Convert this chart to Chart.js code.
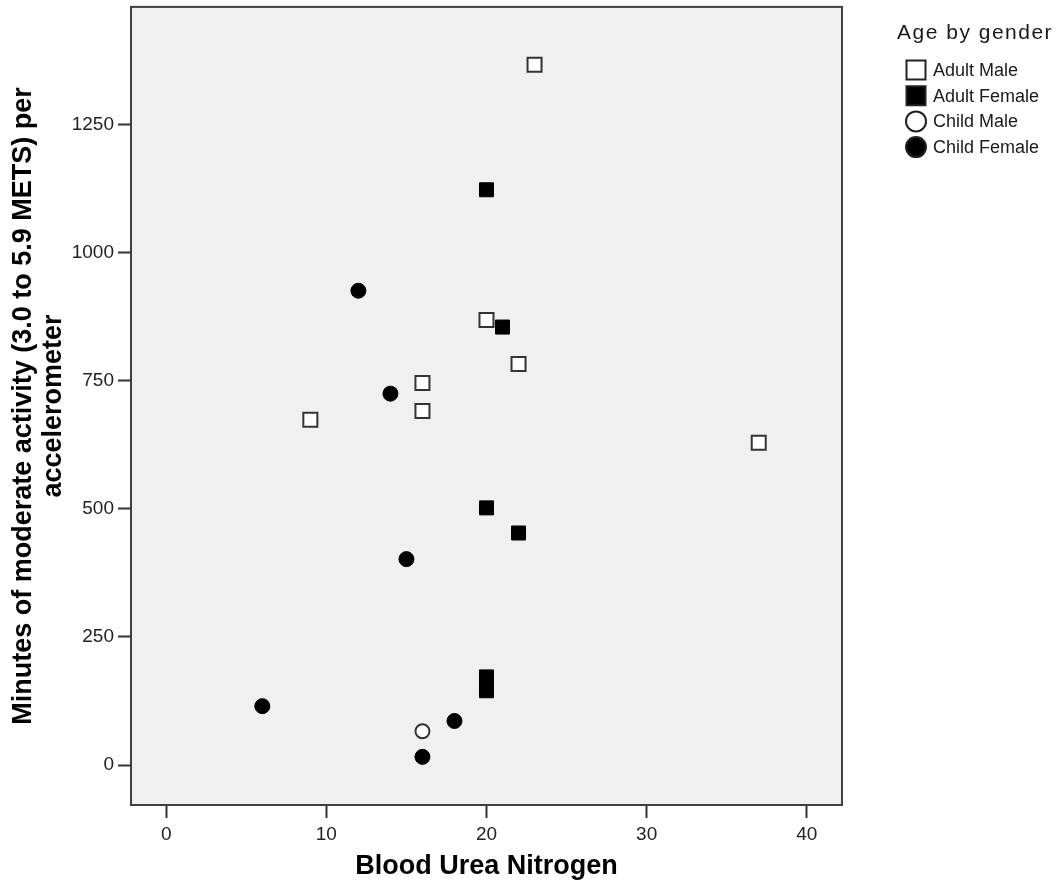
<!DOCTYPE html>
<html>
<head>
<meta charset="utf-8">
<title>Blood Urea Nitrogen vs moderate activity</title>
<script src="https://cdn.jsdelivr.net/npm/chart.js@4"></script>
<style>
  html, body { margin: 0; padding: 0; background: #ffffff; overflow: hidden; }
  /* canvas is 5px taller and pulled up, so the plot top lands at ~7px */
  canvas { display: block; margin-top: -5px; }
</style>
</head>
<body>
<canvas id="scatterChart" width="1061" height="891"></canvas>
<script>
// Points per group
// x = Blood Urea Nitrogen, y = minutes of moderate activity
const adultMaleX = [23, 20, 22, 16, 16, 9, 37];
const adultMaleY = [1367, 869, 783, 746, 691, 674, 629];

const adultFemaleX = [20, 21, 20, 22, 20, 20];
const adultFemaleY = [1123, 855, 502, 453, 172, 145];

const childMaleX = [16];
const childMaleY = [66];

const childFemaleX = [12, 14, 15, 6, 18, 16];
const childFemaleY = [926, 725, 402, 115, 86, 16];

// Axis ticks
const xTicks = [0, 10, 20, 30, 40];
const yTicks = [0, 250, 500, 750, 1000, 1250];

const groupNames = ['Adult Male', 'Adult Female', 'Child Male', 'Child Female'];

const FONT = "'Liberation Sans', Arial, sans-serif";
const PLOT_BG = '#f0f0f0';
const FRAME = '#404040';
const SHIFT = 5; // matches the css margin-top

function toPoints(xs, ys) {
    return xs.map((x, i) => ({ x: x, y: ys[i] }));
}

// ── plot background + frame ──
const framePlugin = {
    id: 'frame',
    beforeDraw(chart) {
        const a = chart.chartArea;
        const ctx = chart.ctx;
        ctx.save();
        ctx.fillStyle = PLOT_BG;
        ctx.fillRect(a.left, a.top, a.right - a.left, a.bottom - a.top);
        ctx.restore();
    },
    afterDatasetsDraw(chart) {
        const a = chart.chartArea;
        const ctx = chart.ctx;
        ctx.save();
        ctx.strokeStyle = FRAME;
        ctx.lineWidth = 2;
        ctx.strokeRect(a.left, a.top, a.right - a.left, a.bottom - a.top);
        ctx.restore();
    }
};

// ── legend on the right, SPSS style ──
const legendPlugin = {
    id: 'sideLegend',
    afterDraw(chart) {
        const ctx = chart.ctx;
        ctx.save();
        ctx.fillStyle = '#1a1a1a';
        ctx.textBaseline = 'alphabetic';
        ctx.font = '21px ' + FONT;
        if ('letterSpacing' in ctx) ctx.letterSpacing = '1.5px';
        ctx.fillText('Age by gender', 897, 39 + SHIFT);
        if ('letterSpacing' in ctx) ctx.letterSpacing = '0px';

        ctx.font = '18px ' + FONT;
        ctx.textBaseline = 'middle';
        const cx = 916;
        chart.data.datasets.forEach((ds, i) => {
            const cy = 70 + SHIFT + i * 25.7;
            ctx.lineWidth = 2;
            ctx.strokeStyle = '#222';
            ctx.fillStyle = ds.backgroundColor;
            ctx.beginPath();
            if (ds.pointStyle === 'rect') {
                ctx.rect(cx - 9.5, cy - 9.5, 19, 19);
            } else {
                ctx.arc(cx, cy, 10, 0, Math.PI * 2);
            }
            ctx.fill();
            ctx.stroke();
            ctx.fillStyle = '#1a1a1a';
            ctx.fillText(ds.label, 933, cy + 1);
        });
        ctx.restore();
    }
};

const ctx = document.getElementById('scatterChart').getContext('2d');

const scatterChart = new Chart(ctx, {
    type: 'scatter',
    data: {
        datasets: [
            {
                label: groupNames[0],
                data: toPoints(adultMaleX, adultMaleY),
                pointStyle: 'rect',
                pointRadius: 9.9,
                backgroundColor: '#ffffff',
                borderColor: '#333333',
                borderWidth: 2
            },
            {
                label: groupNames[1],
                data: toPoints(adultFemaleX, adultFemaleY),
                pointStyle: 'rect',
                pointRadius: 9.9,
                backgroundColor: '#000000',
                borderColor: '#000000',
                borderWidth: 1
            },
            {
                label: groupNames[2],
                data: toPoints(childMaleX, childMaleY),
                pointStyle: 'circle',
                pointRadius: 7,
                backgroundColor: '#ffffff',
                borderColor: '#333333',
                borderWidth: 2
            },
            {
                label: groupNames[3],
                data: toPoints(childFemaleX, childFemaleY),
                pointStyle: 'circle',
                pointRadius: 7.5,
                backgroundColor: '#000000',
                borderColor: '#000000',
                borderWidth: 1
            }
        ]
    },
    options: {
        responsive: false,
        animation: false,
        devicePixelRatio: 1,
        layout: { padding: { left: 0, top: 0, right: 219, bottom: 0 } },
        plugins: {
            legend: { display: false },
            tooltip: { enabled: false }
        },
        scales: {
            x: {
                type: 'linear',
                min: -2.2,
                max: 42.2,
                afterFit: s => { s.height = 81; },
                afterBuildTicks: s => { s.ticks = xTicks.map(v => ({ value: v })); },
                ticks: {
                    includeBounds: false,
                    color: '#222',
                    padding: 5,
                    callback: v => String(v),
                    font: { family: FONT, size: 19 }
                },
                grid: {
                    drawOnChartArea: false,
                    drawTicks: true,
                    tickLength: 13,
                    tickColor: '#333',
                    tickWidth: 2
                },
                border: { display: false },
                title: {
                    display: true,
                    text: 'Blood Urea Nitrogen',
                    color: '#000',
                    padding: { top: 0, bottom: 5 },
                    font: { family: FONT, size: 27, weight: 'bold', lineHeight: 1.1 }
                }
            },
            y: {
                type: 'linear',
                min: -78,
                max: 1480,
                afterFit: s => { s.width = 131; s.paddingTop = 0; },
                afterBuildTicks: s => { s.ticks = yTicks.map(v => ({ value: v })); },
                ticks: {
                    includeBounds: false,
                    color: '#222',
                    padding: 4,
                    callback: v => String(v),
                    font: { family: FONT, size: 19 }
                },
                grid: {
                    drawOnChartArea: false,
                    drawTicks: true,
                    tickLength: 13,
                    tickColor: '#333',
                    tickWidth: 2
                },
                border: { display: false },
                title: {
                    display: true,
                    text: ['Minutes of moderate activity (3.0 to 5.9 METS) per', 'accelerometer'],
                    color: '#000',
                    padding: { top: 9, bottom: 0 },
                    font: { family: FONT, size: 27, weight: 'bold', lineHeight: 1.1 }
                }
            }
        }
    },
    plugins: [framePlugin, legendPlugin]
});
</script>
</body>
</html>
